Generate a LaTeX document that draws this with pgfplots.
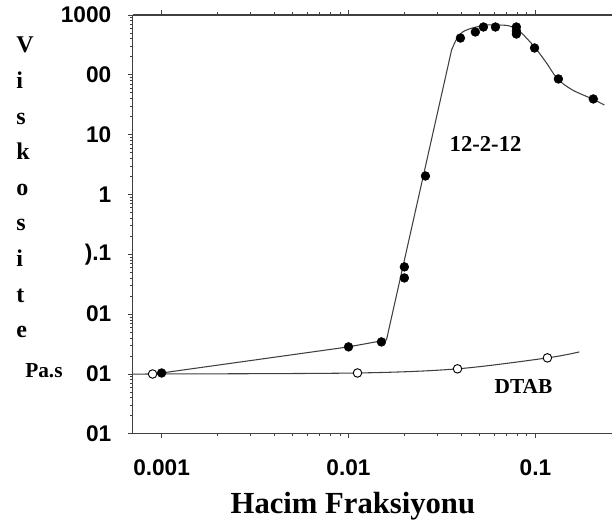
\documentclass[border=0pt]{standalone}
\usepackage{fontspec}
\setmainfont{Liberation Serif}
\setsansfont{Liberation Sans}
\usepackage{pgfplots}
\pgfplotsset{compat=1.18}

\begin{document}
\begin{tikzpicture}
% frame of the original figure in pixels (613 x 523), 1 px = 0.75 pt
\begin{scope}[x=0.75pt,y=-0.75pt,shift={(-99.525pt,325.5pt)}]
  \path[use as bounding box] (0,0) rectangle (613,523);
\end{scope}
\begin{axis}[
  at={(0,0)}, anchor=south west,
  scale only axis, width=360pt, height=314.25pt,
  xmode=log, ymode=log,
  xmin=0.0007, xmax=0.2583, ymin=1e-4, ymax=1000,
  axis x line*=box, axis y line*=left,
  axis line style={black!75, line width=0.8pt},
  tick align=outside, major tick length=3.5pt, minor tick length=2pt,
  tick style={black!75, line width=0.6pt},
  xtick={0.001,0.01,0.1}, xticklabels={0.001,0.01,0.1},
  ytick={1e-4,1e-3,1e-2,1e-1,1,10,100,1000},
  yticklabels={01,01,01,).1,1,10,00,1000},
  xticklabel pos=lower,
  ticklabel style={font=\fontsize{17}{19}\selectfont\sffamily\bfseries},
  xticklabel style={yshift=-12pt},
  yticklabel style={xshift=-9pt},
]
% 12-2-12: fitted line (straight rise, then smooth peak)
\addplot[no marks, black!75, line width=0.8pt] coordinates {
  (0.001,0.00104) (0.01,0.00284) (0.01596,0.00371) (0.0356,260)};
\addplot[no marks, smooth, black!75, line width=0.8pt] coordinates {
  (0.0356,260) (0.0379,397) (0.0408,520) (0.0460,606) (0.0547,680)
  (0.0641,680) (0.0726,655) (0.0820,540) (0.0989,292) (0.1146,158)
  (0.1313,85.3) (0.1578,55.8) (0.2018,39.5) (0.2339,31.3)};
% DTAB: fitted line
\addplot[no marks, smooth, black!75, line width=0.8pt] coordinates {
  (0.0007,0.001) (0.000895,0.001) (0.01117,0.00104) (0.0383,0.00122)
  (0.1159,0.00186) (0.1718,0.00234)};
% DTAB data (open)
\addplot[only marks, mark=*, mark size=3.2pt,
  mark options={fill=white, draw=black, line width=0.7pt}] coordinates {
  (0.000895,0.001) (0.01117,0.00104) (0.0383,0.00122) (0.1159,0.00186)};
% 12-2-12 data (filled)
\addplot[only marks, mark=*, mark size=3.3pt, black] coordinates {
  (0.001,0.00104) (0.01,0.00284) (0.0150,0.00344) (0.0199,0.0617)
  (0.0199,0.0403) (0.0258,2.04) (0.0397,412) (0.0477,520) (0.0527,630)
  (0.0611,630) (0.0791,630) (0.0791,540) (0.0791,481) (0.0989,281)
  (0.1327,85.3) (0.204,39.5)};
\node[font=\fontsize{17}{19}\selectfont\bfseries] at (axis cs:0.0541,7.0) {12-2-12};
\node[font=\fontsize{16}{18}\selectfont\bfseries] at (axis cs:0.0863,0.00061) {DTAB};
\end{axis}
\begin{scope}[x=0.75pt,y=-0.75pt,shift={(-99.525pt,325.5pt)}]
  \foreach \l [count=\i from 0] in {V,i,s,k,o,s,i,t,e}
    \node[anchor=base west, inner sep=0, font=\fontsize{18}{20}\selectfont\bfseries]
      at (16,{53+35.6*\i}) {\l};
  \node[anchor=base west, inner sep=0, font=\fontsize{16}{18}\selectfont\bfseries]
    at (25,378) {Pa.s};
  \node[anchor=base, inner sep=0, font=\fontsize{23}{25}\selectfont\bfseries]
    at (353,514) {Hacim Fraksiyonu};
\end{scope}
\end{tikzpicture}
\end{document}
